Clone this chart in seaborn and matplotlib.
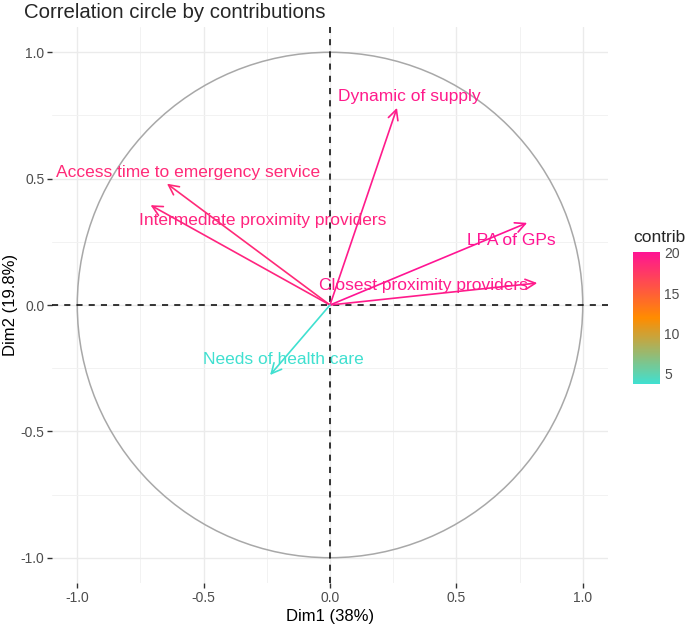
import matplotlib.pyplot as plt
import numpy as np
import seaborn as sns
from matplotlib.cm import ScalarMappable
from matplotlib.colors import Normalize
from matplotlib.patches import Circle

# variable coordinates on Dim1 / Dim2 and their contributions
variables = [
    "Dynamic of supply",
    "Access time to emergency service",
    "Intermediate proximity providers",
    "LPA of GPs",
    "Closest proximity providers",
    "Needs of health care",
]
dim1 = [0.265, -0.645, -0.71, 0.78, 0.82, -0.237]
dim2 = [0.78, 0.48, 0.395, 0.325, 0.087, -0.277]
contrib = [19.6, 18.6, 19.0, 20.1, 19.6, 3.8]

# label anchors (centre of text), as placed in the original
lab_x = [0.312, -0.561, -0.265, 0.719, 0.368, -0.186]
lab_y = [0.826, 0.526, 0.336, 0.257, 0.079, -0.217]

ticks = [-1.0, -0.5, 0.0, 0.5, 1.0]
tick_labels = ["-1.0", "-0.5", "0.0", "0.5", "1.0"]
cbar_ticks = [5, 10, 15, 20]

sns.set_theme(style="whitegrid")
plt.rcParams["font.family"] = ["Liberation Sans", "DejaVu Sans"]

cmap = sns.blend_palette(["#40E0D0", "#FF8C00", "#FF1493"], as_cmap=True)
norm = Normalize(vmin=3.75, vmax=20.1)

fig = plt.figure(figsize=(6.85, 6.26), dpi=100)
ax = fig.add_axes([52 / 685, 1 - 583 / 626, 556 / 685, 556 / 626])

ax.set_xlim(-1.1, 1.1)
ax.set_ylim(-1.1, 1.1)
ax.set_aspect("equal", adjustable="box")

ax.set_xticks(ticks)
ax.set_xticklabels(tick_labels)
ax.set_yticks(ticks)
ax.set_yticklabels(tick_labels)
ax.set_xticks([-0.75, -0.25, 0.25, 0.75], minor=True)
ax.set_yticks([-0.75, -0.25, 0.25, 0.75], minor=True)
ax.grid(which="major", color="#EBEBEB", lw=1.0)
ax.grid(which="minor", color="#F2F2F2", lw=0.7)
ax.set_axisbelow(True)
for s in ax.spines.values():
    s.set_visible(False)
ax.tick_params(which="major", length=3.5, width=1.0, color="#333333",
               labelcolor="#4D4D4D", labelsize=10, pad=2, bottom=True, left=True)
ax.tick_params(which="minor", length=0)

ax.add_patch(Circle((0, 0), 1.0, fill=False, ec="#A8A8A8", lw=1.1, zorder=1))
ax.axhline(0, color="black", ls=(0, (4, 4)), lw=1.1, zorder=2)
ax.axvline(0, color="black", ls=(0, (4, 4)), lw=1.1, zorder=2)

for name, x, y, c, lx, ly in zip(variables, dim1, dim2, contrib, lab_x, lab_y):
    col = cmap(norm(c))
    ax.annotate("", xy=(x, y), xytext=(0, 0),
                arrowprops=dict(arrowstyle="->,head_length=0.6,head_width=0.3",
                                color=col, lw=1.2, shrinkA=0, shrinkB=0,
                                mutation_scale=12),
                zorder=3)
    ax.text(lx, ly, name, color=col, fontsize=12.5, ha="center", va="center", zorder=4)

ax.set_xlabel("Dim1 (38%)", fontsize=12, color="black", labelpad=3)
ax.set_ylabel("Dim2 (19.8%)", fontsize=12, color="black")
ax.yaxis.set_label_coords(-0.062, 0.5)
fig.text(24 / 685, 1 - 12 / 626, "Correlation circle by contributions",
         fontsize=14.7, ha="left", va="center")

cax = fig.add_axes([633 / 685, 1 - 384 / 626, 27 / 685, 132 / 626])
cb = fig.colorbar(ScalarMappable(norm=norm, cmap=cmap), cax=cax, ticks=cbar_ticks)
cb.outline.set_visible(False)
cax.tick_params(direction="in", color="white", length=4, width=1,
                left=True, right=True, labelcolor="#4D4D4D", labelsize=10, pad=3)
fig.text(633 / 685, 1 - 237 / 626, "contrib", fontsize=12.5, ha="left", va="center")

fig.savefig("out.png", dpi=100)
